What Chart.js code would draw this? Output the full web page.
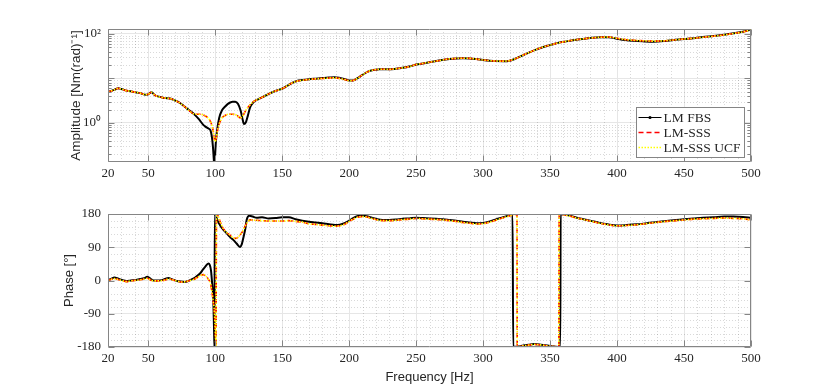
<!DOCTYPE html>
<html>
<head>
<meta charset="utf-8">
<script src="https://cdn.jsdelivr.net/npm/chart.js@4"></script>
<style>
    html, body { margin: 0; padding: 0; background: #fff; }
    body { width: 830px; height: 391px; position: relative; overflow: hidden; }
    .panel { position: absolute; left: 0; width: 830px; }
    #ampBox { top: 0; height: 190px; }
    #phaseBox { top: 190px; height: 201px; }
</style>
</head>
<body>
<div class="panel" id="ampBox"><canvas id="ampChart"></canvas></div>
<div class="panel" id="phaseBox"><canvas id="phaseChart"></canvas></div>
<script>
// Tick values
const xTicks = [20, 50, 100, 150, 200, 250, 300, 350, 400, 450, 500];
const ampTicks = [1, 10, 100];
const phaseTicks = [-180, -90, 0, 90, 180];
const seriesLabels = ['LM FBS', 'LM-SSS', 'LM-SSS UCF'];

// Amplitude, LM FBS
const ampFreqFBS = [20, 22, 25, 27.5, 30, 33, 36, 39, 42, 45, 48, 50, 52.5, 55, 58, 61, 64, 67, 70, 73,
    76, 79, 82, 85, 88, 91, 93, 95, 96.5, 97.5, 98.3, 99, 99.4, 100, 100.6, 101.5, 103, 105, 107.5, 110,
    113, 115, 117, 119, 120.5, 121.5, 123, 124.5, 126, 128.5, 132, 136, 140, 144, 148, 151, 154, 157, 161, 165,
    170, 175, 180, 185, 189, 193, 197, 200, 203, 206, 210, 214, 218, 222, 226, 230, 235, 240, 245, 250,
    256, 262, 268, 275, 280, 285, 290, 295, 300, 305, 310, 315, 320, 325, 330, 335, 340, 345, 350, 356,
    362, 368, 374, 380, 387, 394, 400, 406, 412, 420, 427, 435, 442, 450, 457, 464, 472, 480, 487, 494, 500];
const ampFBS = [5.0, 5.2, 5.6, 6.0, 5.8, 5.4, 5.2, 5.0, 4.8, 4.6, 4.3, 4.4, 4.9, 4.2, 3.9, 3.7, 3.6, 3.5, 3.2, 2.9,
    2.5, 2.1, 1.8, 1.5, 1.2, 0.92, 0.82, 0.75, 0.68, 0.5, 0.3, 0.15, 0.1, 0.2, 0.4, 0.7, 1.3, 1.9, 2.35, 2.75,
    3.0, 3.0, 2.7, 1.9, 1.2, 0.95, 1.05, 1.5, 2.2, 2.9, 3.4, 3.9, 4.5, 5.1, 5.6, 6.1, 6.9, 7.8, 8.8, 9.2,
    9.6, 9.9, 10.2, 10.5, 10.7, 10.3, 9.6, 9.0, 9.0, 10.0, 12.0, 14.2, 15.5, 16.0, 16.1, 16.0, 16.5, 17.3, 18.5, 20.5,
    22.0, 23.8, 25.5, 27.3, 28.2, 28.5, 28.2, 27.2, 26.0, 25.1, 24.5, 24.3, 25.0, 28.5, 33.5, 39, 45, 51, 56, 63,
    68, 73, 77, 81, 84, 84, 78, 73, 70, 68, 67, 69, 73, 77, 80, 85, 90, 96, 103, 112, 125];

// Amplitude, LM-SSS and LM-SSS UCF
const ampFreqSSS = [20, 22, 25, 27.5, 30, 33, 36, 39, 42, 45, 48, 50, 52.5, 55, 58, 61, 64, 67, 70, 73,
    76, 79, 82, 84, 86, 89, 92, 94, 96, 97.5, 98.8, 99.9, 100.8, 101.6, 103, 104.9, 107, 110, 113, 116,
    118.5, 120, 121.5, 123, 125, 128.5, 132, 136, 140, 144, 148, 151, 154, 157, 161, 165, 170, 175, 180, 185,
    189, 193, 197, 200, 203, 206, 210, 214, 218, 222, 226, 230, 235, 240, 245, 250, 256, 262, 268, 275,
    280, 285, 290, 295, 300, 305, 310, 315, 320, 325, 330, 335, 340, 345, 350, 356, 362, 368, 374, 380,
    387, 394, 400, 406, 412, 420, 427, 435, 442, 450, 457, 464, 472, 480, 487, 494, 500];
const ampSSS = [5.0, 5.2, 5.6, 6.0, 5.8, 5.4, 5.2, 5.0, 4.8, 4.6, 4.3, 4.4, 4.9, 4.2, 3.9, 3.7, 3.6, 3.5, 3.2, 2.9,
    2.5, 2.1, 1.75, 1.6, 1.57, 1.57, 1.48, 1.35, 1.15, 0.9, 0.6, 0.38, 0.45, 0.64, 0.95, 1.28, 1.45, 1.57, 1.57, 1.5,
    1.32, 1.35, 1.6, 1.95, 2.35, 3.0, 3.4, 3.9, 4.5, 5.1, 5.6, 6.1, 6.9, 7.8, 8.7, 9.1, 9.5, 9.8, 10.0, 10.2,
    10.3, 10.0, 9.4, 8.9, 9.0, 10.0, 12.0, 14.2, 15.5, 16.0, 16.1, 16.0, 16.5, 17.3, 18.5, 20.5, 22.0, 23.8, 25.5, 27.5,
    28.3, 28.5, 28.2, 27.2, 26.0, 25.1, 24.6, 24.5, 25.2, 28.5, 33.5, 39, 45, 51, 56, 63, 68, 73, 77, 81,
    84, 85, 80, 75, 72, 70, 69, 70, 73, 77, 80, 84, 89, 95, 102, 111, 123];
const ampUCF = [5.0, 5.2, 5.6, 6.0, 5.8, 5.4, 5.2, 5.0, 4.8, 4.6, 4.3, 4.4, 4.9, 4.2, 3.9, 3.7, 3.6, 3.5, 3.2, 2.9,
    2.5, 2.1, 1.75, 1.6, 1.57, 1.57, 1.48, 1.35, 1.15, 0.9, 0.6, 0.38, 0.45, 0.64, 0.95, 1.28, 1.45, 1.57, 1.57, 1.5,
    1.32, 1.35, 1.6, 1.95, 2.35, 3.0, 3.4, 3.9, 4.5, 5.1, 5.6, 6.1, 6.9, 7.8, 8.7, 9.1, 9.5, 9.8, 10.0, 10.2,
    10.3, 10.0, 9.4, 8.9, 9.0, 10.0, 12.0, 14.2, 15.5, 16.0, 16.1, 16.0, 16.5, 17.3, 18.5, 20.5, 22.0, 23.8, 25.5, 27.5,
    28.3, 28.5, 28.2, 27.2, 26.0, 25.1, 24.6, 24.5, 25.2, 28.5, 33.5, 39, 45, 51, 56, 63, 68, 73, 77, 81,
    84, 85, 80, 75, 72, 70, 69, 70, 73, 77, 80, 84, 89, 95, 102, 111, 123];

// Phase, LM FBS
const phaseFreqFBS = [20, 22, 25, 27, 29, 32, 34, 37, 40, 44, 47, 49.4, 52, 54, 57, 60, 63, 65, 68, 71,
    74, 77.5, 80, 82.5, 85, 88.7, 91, 92.5, 94.9, 96, 96.9, 97.8, 98.6, 99.2, 99.5, 99.7, 100, 101, 102, 103.6,
    106, 108.6, 111, 113.5, 116, 118.5, 120, 121, 122.5, 123.5, 125.5, 128, 131, 135, 140, 145, 150, 155, 160, 165,
    170, 175, 180, 185, 189.5, 193, 197, 200, 203, 206, 209, 213, 217, 221, 225, 230, 235, 240, 245, 250,
    255, 260, 265, 270, 275, 280, 285, 290, 295, 300, 305, 310, 315, 319, 322, 322.5, 325, 330, 334, 338,
    342, 346, 350, 354, 357.6, 357.9, 360, 365, 370, 375, 380, 387, 393, 400, 407, 415, 422, 429, 437, 444,
    450, 457, 464, 472, 480, 487, 494, 500];
const phaseFBS = [0, 4, 8, 6, 3, 0, -2, 0, 1, 4, 6, 10, 4, 0, 0, 1, 5, 7, 3, -1,
    -3, -4, -1, 3, 8, 19, 30, 37, 46, 42, 27, -10, -48, -140, -180, 180, 176, 170, 160, 150,
    138, 128, 118, 110, 100, 91, 100, 115, 140, 164, 175, 173, 170, 171, 168, 169, 171, 171, 166, 162,
    159, 157, 155, 152, 150, 151, 156, 162, 169, 174, 176, 174, 170, 166, 164, 164, 165, 167, 168, 170,
    169, 168, 167, 166, 164, 162, 159, 157, 155, 156, 160, 166, 171, 176, 179, -179, -179, -176, -174, -172,
    -173, -175, -177, -179, -180, 180, 179, 175, 170, 166, 162, 156, 152, 149, 150, 152, 155, 158, 161, 164,
    166, 168, 170, 171, 173, 173, 172, 170];

// Phase, LM-SSS and LM-SSS UCF
const phaseFreqSSS = [20, 22, 25, 28, 31, 34, 37, 40, 44, 47, 49.4, 52, 55, 58, 61, 64, 66, 69, 72, 75,
    78, 81, 84, 87, 89, 91, 93, 95, 96.5, 97.4, 98.5, 99.4, 100, 100.6, 101, 102.4, 103.6, 106, 108.5, 111,
    113, 115, 117, 118.5, 120.5, 122.2, 124, 126, 130, 135, 140, 146, 150, 155, 160, 165, 170.8, 175, 180, 185,
    190, 193, 197, 200, 203, 206, 209, 213, 217, 221, 225, 230, 235, 240, 245, 250, 255, 260, 265, 270,
    275, 280, 285, 290, 295, 300, 305, 310, 315, 320, 324, 325.3, 325.5, 330, 334, 338, 342, 346, 350, 354,
    356.5, 356.8, 360, 365, 370, 375, 380, 387, 393, 400, 407, 415, 422, 429, 437, 444, 450, 457, 464, 472,
    480, 487, 494, 500];
const phaseSSS = [0, 3, 5, 2, -1, -3, -1, 0, 2, 4, 6, 1, -1, -1, 0, 3, 4, 1, -2, -4,
    -3, 0, 3, 9, 13, 16, 12, 3, -8, -26, -55, -84, -130, -178, 180, 173, 160, 141, 130, 123,
    117, 114, 117, 123, 133, 146, 157, 164, 163, 162, 161, 161, 161, 162, 160, 158, 153, 152, 150, 148,
    147, 148, 153, 160, 166, 171, 173, 172, 168, 164, 162, 162, 163, 165, 166, 168, 167, 166, 165, 164,
    162, 160, 157, 155, 153, 154, 158, 164, 170, 175, 179, 179, -179, -177, -175, -173, -174, -176, -178, -179,
    -180, 180, 178, 174, 169, 165, 161, 155, 151, 148, 149, 151, 154, 157, 160, 162, 164, 166, 167, 168,
    169, 168, 167, 164];
const phaseUCF = [0, 3, 5, 2, -1, -3, -1, 0, 2, 4, 6, 1, -1, -1, 0, 3, 4, 1, -2, -4,
    -3, 0, 3, 9, 13, 16, 12, 3, -8, -26, -55, -84, -130, -178, 180, 173, 160, 141, 130, 123,
    117, 114, 117, 123, 133, 146, 157, 164, 163, 162, 161, 161, 161, 162, 160, 158, 153, 152, 150, 148,
    147, 148, 153, 160, 166, 171, 173, 172, 168, 164, 162, 162, 163, 165, 166, 168, 167, 166, 165, 164,
    162, 160, 157, 155, 153, 154, 158, 164, 170, 175, 179, 179, -179, -177, -175, -173, -174, -176, -178, -179,
    -180, 180, 178, 174, 169, 165, 161, 155, 151, 148, 149, 151, 154, 157, 160, 162, 164, 166, 167, 168,
    169, 168, 167, 164];

// minor grid positions (every 10 Hz, 2..9 per decade, every 18 deg)
const xMinor = [];
for (let f = 30; f < 500; f += 10) if (!xTicks.includes(f)) xMinor.push(f);
const ampMinor = [];
[0.1, 1, 10].forEach(d => { for (let m = 2; m <= 9; m++) ampMinor.push(m * d); });
const phaseMinor = [];
for (let p = -180; p < 180; p += 18) if (!phaseTicks.includes(p)) phaseMinor.push(p);

const frameColor = '#858585';
const textColor = '#262626';
const serif = "'Liberation Serif', 'Times New Roman', serif";
const sans = "'Liberation Sans', Arial, sans-serif";

const toPoints = (xs, ys) => xs.map((f, i) => ({ x: f, y: ys[i] }));

// MATLAB-like axes: dotted minor grid, box, inward ticks, legend inside
const matlabAxes = {
    id: 'matlabAxes',
    beforeDatasetsDraw(chart, args, opts) {
        const { ctx, chartArea: a, scales: { x, y } } = chart;
        ctx.save();
        ctx.strokeStyle = 'rgba(0,0,0,0.15)';
        ctx.lineWidth = 1;
        ctx.setLineDash([1, 2]);
        ctx.beginPath();
        opts.xMinor.forEach(v => {
            const px = Math.round(x.getPixelForValue(v)) + 0.5;
            ctx.moveTo(px, a.top); ctx.lineTo(px, a.bottom);
        });
        opts.yMinor.forEach(v => {
            const py = Math.round(y.getPixelForValue(v)) + 0.5;
            if (py < a.top || py > a.bottom) return;
            ctx.moveTo(a.left, py); ctx.lineTo(a.right, py);
        });
        ctx.stroke();
        ctx.restore();
    },
    afterDatasetsDraw(chart, args, opts) {
        const { ctx, chartArea: a, scales: { x, y } } = chart;
        ctx.save();
        ctx.strokeStyle = frameColor;
        ctx.lineWidth = 1;
        ctx.setLineDash([]);
        ctx.beginPath();
        const L = Math.round(a.left) + 0.5, R = Math.round(a.right) - 0.5;
        const T = Math.round(a.top) + 0.5, B = Math.round(a.bottom) - 0.5;
        ctx.rect(L, T, R - L, B - T);
        // inward ticks
        x.ticks.forEach(t => {
            const px = Math.round(x.getPixelForValue(t.value)) + 0.5;
            ctx.moveTo(px, T); ctx.lineTo(px, T + 6);
            ctx.moveTo(px, B); ctx.lineTo(px, B - 6);
        });
        y.ticks.forEach(t => {
            const py = Math.round(y.getPixelForValue(t.value)) + 0.5;
            ctx.moveTo(L, py); ctx.lineTo(L + 6, py);
            ctx.moveTo(R, py); ctx.lineTo(R - 6, py);
        });
        if (opts.yMinorTicks) {
            opts.yMinor.forEach(v => {
                const py = Math.round(y.getPixelForValue(v)) + 0.5;
                if (py < a.top || py > a.bottom) return;
                ctx.moveTo(L, py); ctx.lineTo(L + 3, py);
                ctx.moveTo(R, py); ctx.lineTo(R - 3, py);
            });
        }
        ctx.stroke();

        if (opts.legend) {
            const bw = 108, bh = 50;
            const bx = Math.round(a.right - 7 - bw) + 0.5, by = Math.round(a.bottom - 5 - bh) + 0.5;
            ctx.fillStyle = '#fff';
            ctx.fillRect(bx, by, bw, bh);
            ctx.strokeStyle = frameColor;
            ctx.strokeRect(bx, by, bw, bh);
            ctx.font = '13.5px ' + serif;
            ctx.textBaseline = 'middle';
            chart.data.datasets.forEach((ds, i) => {
                const ry = by + 10 + i * 15;
                ctx.strokeStyle = ds.borderColor;
                ctx.lineWidth = ds.legendWidth;
                ctx.setLineDash(ds.borderDash || []);
                ctx.beginPath();
                ctx.moveTo(bx + 2, ry); ctx.lineTo(bx + 25, ry);
                ctx.stroke();
                if (i === 0) {
                    ctx.fillStyle = ds.borderColor;
                    ctx.beginPath();
                    ctx.arc(bx + 13.5, ry, 1.6, 0, Math.PI * 2);
                    ctx.fill();
                }
                ctx.setLineDash([]);
                ctx.fillStyle = textColor;
                ctx.fillText(ds.label, bx + 27, ry + 1);
            });
        }
        ctx.restore();
    }
};

function makeDatasets(sets) {
    const styles = [
        { borderColor: '#000000', borderWidth: 2, legendWidth: 1, borderDash: [], order: 3 },
        { borderColor: '#ff0000', borderWidth: 1.6, legendWidth: 1.5, borderDash: [5, 3], order: 2 },
        { borderColor: '#ffff00', borderWidth: 1.6, legendWidth: 1.5, borderDash: [1.5, 1.5], order: 1 }
    ];
    return sets.map((pts, i) => Object.assign({
        label: seriesLabels[i],
        data: pts,
        pointRadius: 0,
        fill: false,
        cubicInterpolationMode: 'monotone',
        clip: 0
    }, styles[i]));
}

function xScale(height, title) {
    return {
        type: 'linear',
        min: 20,
        max: 500,
        afterBuildTicks: s => { s.ticks = xTicks.map(v => ({ value: v })); },
        afterFit: s => { s.height = height; },
        grid: { color: '#e6e6e6', drawTicks: false },
        border: { display: false },
        ticks: { font: { family: serif, size: 13 }, color: textColor, padding: 4, maxRotation: 0, autoSkip: false,
            callback: v => String(v) },
        title: title ? { display: true, text: title, font: { family: sans, size: 13 }, color: textColor,
            padding: { top: 0, bottom: 6 } } : { display: false }
    };
}

Chart.defaults.font.family = sans;
Chart.defaults.animation = false;

new Chart(document.getElementById('ampChart'), {
    type: 'line',
    data: { datasets: makeDatasets([toPoints(ampFreqFBS, ampFBS), toPoints(ampFreqSSS, ampSSS), toPoints(ampFreqSSS, ampUCF)]) },
    options: {
        responsive: true,
        maintainAspectRatio: false,
        layout: { padding: { top: 29, right: 79, bottom: 0, left: 0 } },
        scales: {
            x: xScale(28, null),
            y: {
                type: 'logarithmic',
                min: 0.133,
                max: 129,
                afterBuildTicks: s => { s.ticks = ampTicks.map(v => ({ value: v })); },
                afterFit: s => { s.width = 108; },
                grid: { color: '#e6e6e6', drawTicks: false },
                border: { display: false },
                ticks: { font: { family: serif, size: 13 }, color: textColor, padding: 7,
                    callback: v => (v === 1 ? '10\u2070' : v === 100 ? '10\u00b2' : '') },
                title: { display: true, text: 'Amplitude [Nm(rad)\u207b\u00b9]', font: { family: sans, size: 13.5 },
                    color: textColor, padding: { top: 68, bottom: 0 } }
            }
        },
        plugins: {
            legend: { display: false },
            tooltip: { enabled: false },
            matlabAxes: { xMinor: xMinor, yMinor: ampMinor, yMinorTicks: true, legend: true }
        }
    },
    plugins: [matlabAxes]
});

new Chart(document.getElementById('phaseChart'), {
    type: 'line',
    data: { datasets: makeDatasets([toPoints(phaseFreqFBS, phaseFBS), toPoints(phaseFreqSSS, phaseSSS), toPoints(phaseFreqSSS, phaseUCF)]) },
    options: {
        responsive: true,
        maintainAspectRatio: false,
        layout: { padding: { top: 24, right: 79, bottom: 0, left: 0 } },
        scales: {
            x: xScale(44, 'Frequency [Hz]'),
            y: {
                type: 'linear',
                min: -180,
                max: 180,
                afterBuildTicks: s => { s.ticks = phaseTicks.map(v => ({ value: v })); },
                afterFit: s => { s.width = 108; },
                grid: { color: '#e6e6e6', drawTicks: false },
                border: { display: false },
                ticks: { font: { family: serif, size: 13 }, color: textColor, padding: 7 },
                title: { display: true, text: 'Phase [\u00b0]', font: { family: sans, size: 13 },
                    color: textColor, padding: { top: 62, bottom: 0 } }
            }
        },
        plugins: {
            legend: { display: false },
            tooltip: { enabled: false },
            matlabAxes: { xMinor: xMinor, yMinor: phaseMinor, yMinorTicks: false, legend: false }
        }
    },
    plugins: [matlabAxes]
});
</script>
</body>
</html>
